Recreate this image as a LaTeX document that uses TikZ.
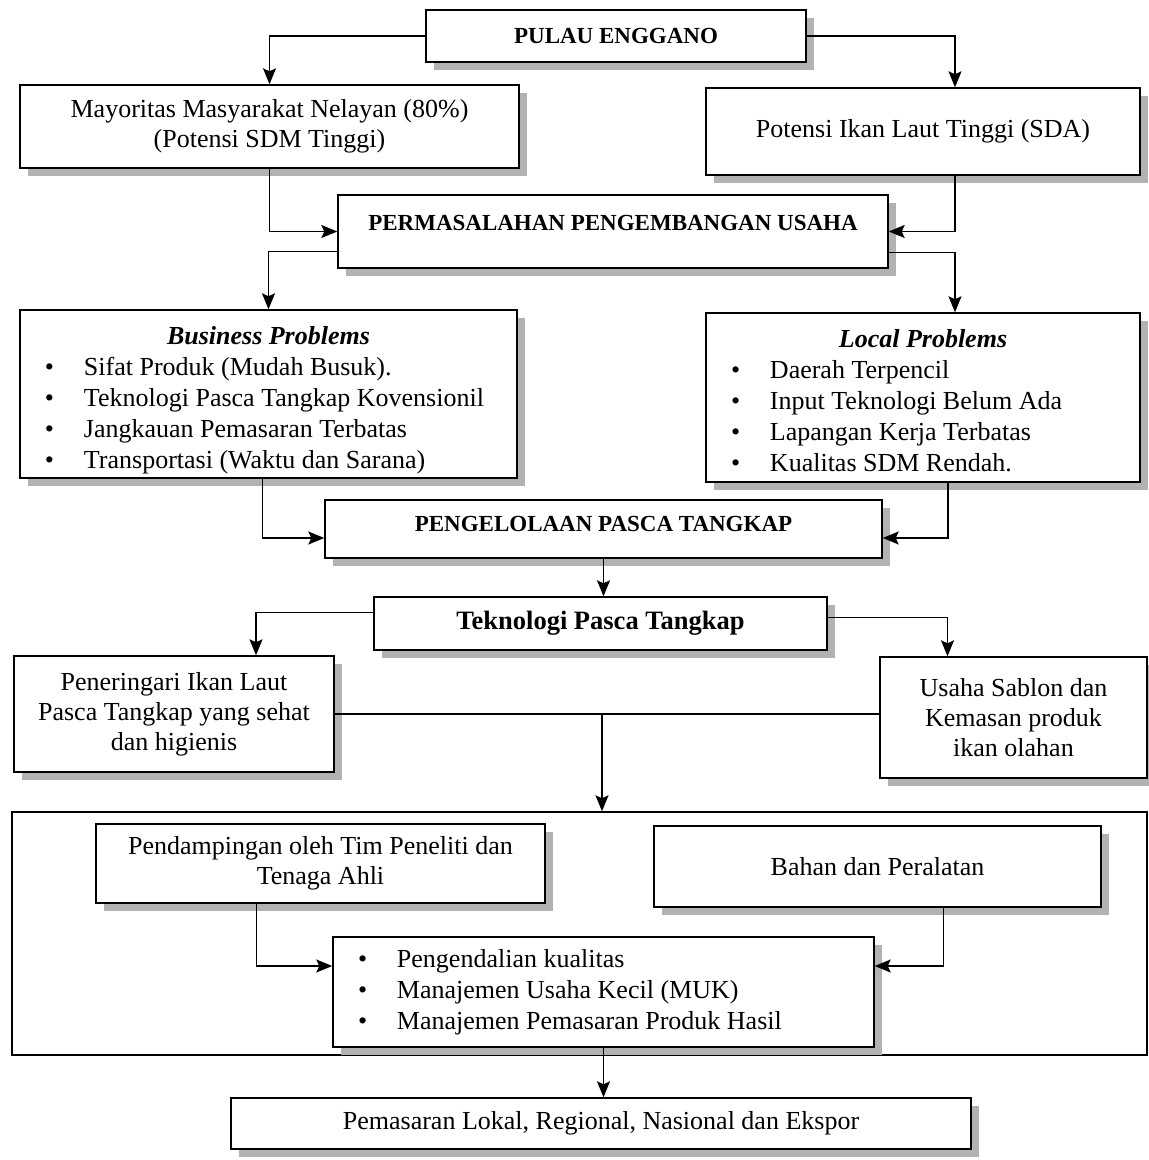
\documentclass[tikz,border=0pt]{standalone}
\usepackage{fontspec}
\setmainfont{Liberation Serif}
\usepackage{tikz}
\usetikzlibrary{arrows.meta,shadows}

\newcommand{\bul}{\hspace*{5pt}\makebox[39pt][l]{\textbullet}}

\begin{document}
\begin{tikzpicture}[x=1pt,y=-1pt,>={Stealth[length=16pt,width=13pt,inset=3pt]},line width=1.4pt,
  main box/.style={rectangle,draw,fill=white,align=center,inner sep=4pt,
    drop shadow={shadow xshift=8pt,shadow yshift=-8pt,fill=black!30,opacity=1},
    font=\fontsize{26}{30}\selectfont},
  head box/.style={main box,font=\fontsize{23}{30}\selectfont\bfseries},
  list box/.style={main box,align=flush left,inner xsep=20pt,inner ysep=0pt,
    font=\fontsize{26}{31}\selectfont},
  hv/.style={to path={-| (\tikztotarget)}},
  vh/.style={to path={|- (\tikztotarget)}}]
  \useasboundingbox (0,0) rectangle (1149,1160);

  \node[draw,rectangle,minimum width=1135pt,minimum height=243pt] (11) at (579.5,933.5) {};

  \node[head box,minimum width=380pt,minimum height=52pt] (1) at (616,36) {PULAU ENGGANO};
  \node[main box,minimum width=499pt,minimum height=83pt] (2) at (269.5,126.5)
    {Mayoritas Masyarakat Nelayan (80\%)\\(Potensi SDM Tinggi)};
  \node[main box,minimum width=434pt,minimum height=87pt] (3) at (923,131.5) {Potensi Ikan Laut Tinggi (SDA)};
  \node[head box,minimum width=550pt,minimum height=73pt,text depth=18pt] (4) at (613,231.5)
    {PERMASALAHAN PENGEMBANGAN USAHA};
  \node[list box,text width=457pt,minimum height=168pt] (5) at (268.5,394)
    {{\centering\rule{0pt}{30pt}\bfseries\itshape Business Problems\par}\raggedright
     \bul Sifat Produk (Mudah Busuk).\\
     \bul Teknologi Pasca Tangkap Kovensionil\\
     \bul Jangkauan Pemasaran Terbatas\\
     \bul Transportasi (Waktu dan Sarana)};
  \node[list box,text width=394pt,minimum height=169pt] (6) at (923,397.5)
    {{\centering\rule{0pt}{24pt}\bfseries\itshape Local Problems\par}\raggedright
     \bul Daerah Terpencil\\
     \bul Input Teknologi Belum Ada\\
     \bul Lapangan Kerja Terbatas\\
     \bul Kualitas SDM Rendah.};
  \node[head box,minimum width=557pt,minimum height=58pt,text depth=10pt] (7) at (603.5,529)
    {PENGELOLAAN PASCA TANGKAP};
  \node[head box,minimum width=453pt,minimum height=53pt,font=\fontsize{26.5}{30}\selectfont\bfseries]
    (8) at (600.5,623.5) {Teknologi Pasca Tangkap};
  \node[main box,minimum width=320pt,minimum height=116pt] (9) at (174,714)
    {Peneringari Ikan Laut\\Pasca Tangkap yang sehat\\dan higienis};
  \node[main box,minimum width=267pt,minimum height=121pt] (10) at (1013.5,717.5)
    {Usaha Sablon dan\\Kemasan produk\\ikan olahan};
  \node[main box,minimum width=449pt,minimum height=79pt] (12) at (320.5,863.5)
    {Pendampingan oleh Tim Peneliti dan\\Tenaga Ahli};
  \node[main box,minimum width=447pt,minimum height=81pt] (13) at (877.5,866.5) {Bahan dan Peralatan};
  \node[list box,text width=501pt,minimum height=110pt] (14) at (603.5,992)
    {\raggedright
     \bul Pengendalian kualitas\\
     \bul Manajemen Usaha Kecil (MUK)\\
     \bul Manajemen Pemasaran Produk Hasil};
  \node[main box,minimum width=740pt,minimum height=51pt] (15) at (601,1123.5)
    {Pemasaran Lokal, Regional, Nasional dan Ekspor};

  \coordinate (j) at (602,714);

  \path[->]
    (1.west) edge[hv] (2.north)
    (1.east) edge[hv] ([xshift=32pt]3.north)
    (2.south) edge[vh] (4.west)
    ([xshift=32pt]3.south) edge[vh] (4.east)
    ([yshift=-20pt]4.west) edge[hv] (5.north)
    ([yshift=-21pt]4.east) edge[hv] ([xshift=32pt]6.north)
    ([xshift=-6pt]5.south) edge[vh] ([yshift=-9pt]7.west)
    ([xshift=25pt]6.south) edge[vh] ([yshift=-9pt]7.east)
    (7.south) edge (7.south |- 8.north)
    ([yshift=11pt]8.west) edge[hv] ([xshift=82pt]9.north)
    ([yshift=6pt]8.east) edge[hv] ([xshift=-66pt]10.north)
    (j) edge (j |- 11.north)
    ([xshift=-64pt]12.south) edge[vh] ([yshift=26pt]14.west)
    ([xshift=66pt]13.south) edge[vh] ([yshift=26pt]14.east)
    (14.south) edge (14.south |- 15.north);
  \draw (9.east) -- (9.east -| 10.west);
\end{tikzpicture}
\end{document}
